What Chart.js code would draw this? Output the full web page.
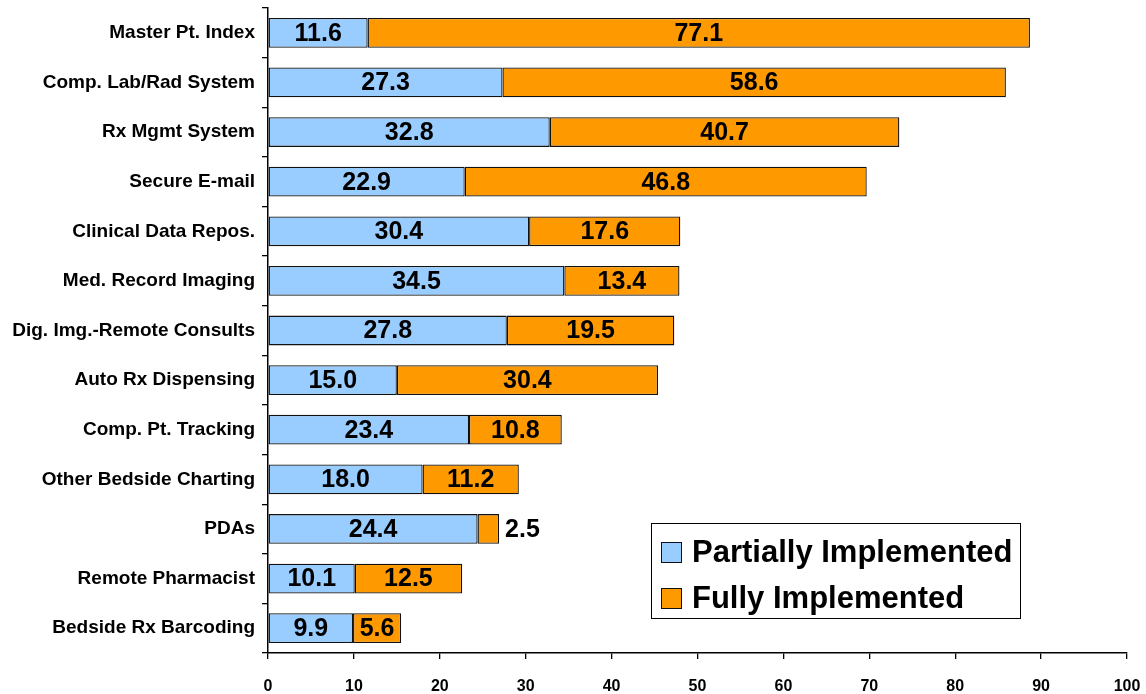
<!DOCTYPE html>
<html>
<head>
<meta charset="utf-8">
<script src="https://cdn.jsdelivr.net/npm/chart.js@4"></script>
<style>
  html, body { margin: 0; padding: 0; background: #fff; }
  #chart { display: block; }
</style>
</head>
<body>
<canvas id="chart" width="1146" height="694"></canvas>
<script>
const categories = [
  "Master Pt. Index",
  "Comp. Lab/Rad System",
  "Rx Mgmt System",
  "Secure E-mail",
  "Clinical Data Repos.",
  "Med. Record Imaging",
  "Dig. Img.-Remote Consults",
  "Auto Rx Dispensing",
  "Comp. Pt. Tracking",
  "Other Bedside Charting",
  "PDAs",
  "Remote Pharmacist",
  "Bedside Rx Barcoding"
];
const partially = [11.6, 27.3, 32.8, 22.9, 30.4, 34.5, 27.8, 15.0, 23.4, 18.0, 24.4, 10.1, 9.9];
const fully = [77.1, 58.6, 40.7, 46.8, 17.6, 13.4, 19.5, 30.4, 10.8, 11.2, 2.5, 12.5, 5.6];
const xTicks = [0, 10, 20, 30, 40, 50, 60, 70, 80, 90, 100];

const FONT = "'Liberation Sans', Arial, sans-serif";

// value labels inside each segment (small ones go to the right)
const valueLabels = {
  id: "valueLabels",
  afterDatasetsDraw(chart) {
    const ctx = chart.ctx;
    ctx.save();
    ctx.font = "bold 25px " + FONT;
    ctx.fillStyle = "#000";
    ctx.textBaseline = "middle";
    chart.data.datasets.forEach((ds, i) => {
      chart.getDatasetMeta(i).data.forEach((bar, j) => {
        const txt = ds.data[j].toFixed(1);
        const w = Math.abs(bar.x - bar.base);
        if (w < ctx.measureText(txt).width + 4) {
          ctx.textAlign = "left";
          ctx.fillText(txt, bar.x + 6, bar.y + 1);
        } else {
          ctx.textAlign = "center";
          ctx.fillText(txt, (bar.x + bar.base) / 2, bar.y + 1);
        }
      });
    });
    ctx.restore();
  }
};

// boxed legend inside the plot, bottom right
const boxLegend = {
  id: "boxLegend",
  afterDraw(chart) {
    const ctx = chart.ctx;
    const x = 651, y = 523, w = 369, h = 95;
    ctx.save();
    ctx.fillStyle = "#fff";
    ctx.fillRect(x, y, w, h);
    ctx.strokeStyle = "#000";
    ctx.lineWidth = 1;
    ctx.strokeRect(x + 0.5, y + 0.5, w, h);
    ctx.font = "bold 31px " + FONT;
    ctx.textBaseline = "middle";
    ctx.textAlign = "left";
    chart.data.datasets.forEach((ds, i) => {
      const cy = y + 29 + i * 46;
      ctx.fillStyle = ds.backgroundColor;
      ctx.fillRect(x + 10, cy - 10, 20, 20);
      ctx.strokeStyle = "#111";
      ctx.strokeRect(x + 10.5, cy - 9.5, 20, 20);
      ctx.fillStyle = "#000";
      ctx.fillText(ds.label, x + 41, cy + 1);
    });
    ctx.restore();
  }
};

new Chart(document.getElementById("chart"), {
  type: "bar",
  data: {
    labels: categories,
    datasets: [
      {
        label: "Partially Implemented",
        data: partially,
        backgroundColor: "#99CCFF",
        borderColor: "#111",
        borderWidth: 1.3,
        borderSkipped: false
      },
      {
        label: "Fully Implemented",
        data: fully,
        backgroundColor: "#FF9900",
        borderColor: "#111",
        borderWidth: 1.3,
        borderSkipped: false
      }
    ]
  },
  options: {
    indexAxis: "y",
    responsive: false,
    animation: false,
    barPercentage: 0.6,
    categoryPercentage: 1,
    layout: { padding: { top: 8, right: 19, left: 0, bottom: 0 } },
    plugins: {
      legend: { display: false },
      tooltip: { enabled: false }
    },
    scales: {
      x: {
        stacked: true,
        min: 0,
        max: 100,
        afterBuildTicks(scale) {
          scale.ticks = xTicks.map(v => ({ value: v }));
        },
        afterFit(scale) {
          scale.height = 41;
          scale.paddingLeft = 0;
          scale.paddingRight = 0;
        },
        grid: { drawOnChartArea: false, tickLength: 6, color: "#000", lineWidth: 1.3 },
        border: { display: true, color: "#000", width: 1.5 },
        ticks: {
          color: "#000",
          padding: 18,
          font: { family: FONT, size: 16, weight: "bold" }
        }
      },
      y: {
        stacked: true,
        afterFit(scale) {
          scale.width = 268;
          scale.paddingTop = 0;
          scale.paddingBottom = 0;
        },
        grid: { drawOnChartArea: false, offset: true, tickLength: 6, color: "#000", lineWidth: 1.3 },
        border: { display: true, color: "#000", width: 1.5 },
        ticks: {
          color: "#000",
          padding: 7,
          font: { family: FONT, size: 19, weight: "bold" }
        }
      }
    }
  },
  plugins: [valueLabels, boxLegend]
});
</script>
</body>
</html>
